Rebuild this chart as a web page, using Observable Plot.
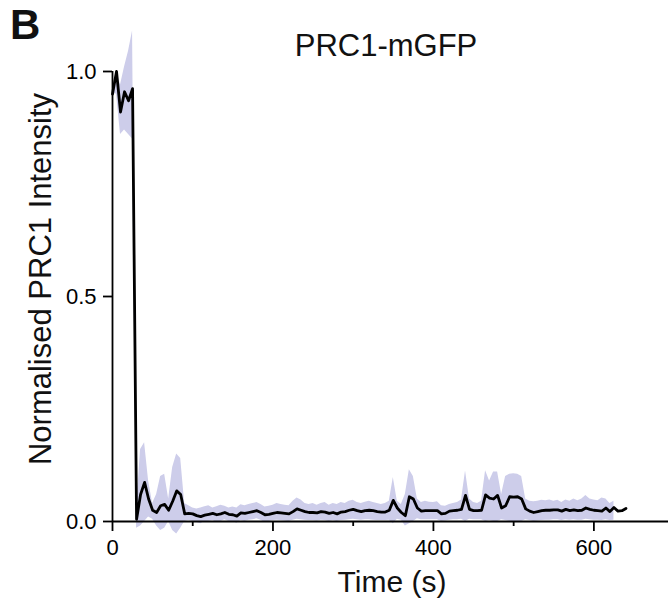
<!DOCTYPE html>
<html>
<head>
<meta charset="utf-8">
<script src="https://cdn.jsdelivr.net/npm/d3@7"></script>
<script src="https://cdn.jsdelivr.net/npm/@observablehq/plot@0.6"></script>
<style>
  html, body { margin: 0; padding: 0; background: #fff; }
  #chart { width: 670px; height: 612px; }
</style>
</head>
<body>
<div id="chart"></div>
<script>
// ---- data ----
const panelLetter = "B";
const titleText = "PRC1-mGFP";
const xLabel = "Time (s)";
const yLabel = "Normalised PRC1 Intensity";

const xMajorTicks = [0, 200, 400, 600];
const xMinorTicks = [100, 300, 500];
const yTicks = [0, 0.5, 1.0];

// mean intensity, sampled every 5 s from 0 to 640 s
const meanValues = [
  0.95, 1.00, 0.91, 0.955, 0.935, 0.962, 0.005, 0.06, 0.087, 0.05,
  0.025, 0.02, 0.035, 0.038, 0.025, 0.045, 0.068, 0.06, 0.017, 0.018,
  0.017, 0.013, 0.011, 0.014, 0.016, 0.018, 0.015, 0.017, 0.02, 0.016,
  0.015, 0.012, 0.019, 0.018, 0.02, 0.022, 0.024, 0.02, 0.015, 0.016,
  0.018, 0.02, 0.019, 0.018, 0.017, 0.022, 0.028, 0.025, 0.022, 0.02,
  0.02, 0.019, 0.022, 0.021, 0.018, 0.02, 0.017, 0.021, 0.022, 0.025,
  0.027, 0.024, 0.022, 0.024, 0.025, 0.024, 0.022, 0.021, 0.021, 0.025,
  0.047, 0.03, 0.02, 0.013, 0.055, 0.05, 0.03, 0.023, 0.024, 0.024,
  0.024, 0.024, 0.017, 0.018, 0.023, 0.024, 0.025, 0.027, 0.058, 0.027,
  0.024, 0.024, 0.025, 0.059, 0.052, 0.05, 0.058, 0.03, 0.035, 0.055,
  0.054, 0.055, 0.05, 0.028, 0.023, 0.02, 0.022, 0.024, 0.025, 0.025,
  0.026, 0.026, 0.023, 0.027, 0.024, 0.026, 0.024, 0.025, 0.03, 0.027,
  0.025, 0.024, 0.023, 0.03, 0.022, 0.031, 0.023, 0.024, 0.029
];

// error band, sampled every 5 s from 0 to 625 s
const bandUpper = [
  0.96, 1.00, 0.97, 1.01, 1.045, 1.09, 0.03, 0.16, 0.175, 0.09,
  0.04, 0.06, 0.10, 0.105, 0.05, 0.12, 0.15, 0.14, 0.04, 0.035,
  0.03, 0.028, 0.03, 0.033, 0.035, 0.03, 0.033, 0.036, 0.034, 0.03,
  0.032, 0.03, 0.037, 0.035, 0.038, 0.04, 0.042, 0.038, 0.032, 0.034,
  0.036, 0.04, 0.038, 0.036, 0.035, 0.045, 0.052, 0.048, 0.04, 0.038,
  0.04, 0.036, 0.04, 0.042, 0.036, 0.04, 0.038, 0.042, 0.04, 0.045,
  0.047, 0.042, 0.04, 0.043, 0.045, 0.042, 0.04, 0.038, 0.04, 0.045,
  0.098, 0.045, 0.038, 0.06, 0.115, 0.10, 0.05, 0.042, 0.045, 0.043,
  0.042, 0.044, 0.035, 0.034, 0.038, 0.04, 0.042, 0.048, 0.112, 0.05,
  0.042, 0.04, 0.045, 0.113, 0.09, 0.11, 0.11, 0.06, 0.10, 0.105,
  0.106, 0.105, 0.10, 0.05, 0.045, 0.044, 0.045, 0.047, 0.046, 0.048,
  0.045, 0.047, 0.042, 0.048, 0.045, 0.05, 0.046, 0.05, 0.058, 0.05,
  0.048, 0.046, 0.052, 0.05, 0.04, 0.045
];
const bandLower = [
  0.95, 0.95, 0.86, 0.87, 0.86, 0.85, -0.015, -0.01, 0.0, 0.01,
  0.005, -0.01, -0.02, -0.015, 0.0, -0.02, -0.028, -0.015, 0.0, 0.002,
  0.0, -0.002, -0.005, 0.0, 0.0, 0.002, -0.002, 0.0, 0.004, 0.0,
  0.0, -0.004, 0.002, 0.0, 0.003, 0.004, 0.006, 0.003, -0.002, 0.0,
  0.002, 0.003, 0.002, 0.001, 0.0, 0.003, 0.005, 0.004, 0.003, 0.002,
  0.002, 0.001, 0.003, 0.002, 0.0, 0.002, 0.0, 0.002, 0.003, 0.004,
  0.005, 0.004, 0.003, 0.004, 0.004, 0.003, 0.002, 0.002, 0.002, 0.003,
  -0.005, 0.005, 0.003, -0.01, -0.005, 0.0, 0.006, 0.004, 0.004, 0.004,
  0.004, 0.004, 0.0, 0.001, 0.003, 0.004, 0.004, 0.005, 0.0, 0.005,
  0.004, 0.004, 0.004, 0.0, 0.002, 0.0, 0.0, 0.004, 0.002, 0.0,
  0.0, 0.0, 0.0, 0.004, 0.002, 0.0, 0.001, 0.002, 0.003, 0.003,
  0.004, 0.004, 0.002, 0.004, 0.003, 0.004, 0.003, 0.003, 0.005, 0.004,
  0.003, 0.003, 0.002, 0.004, 0.002, 0.003
];
const sampleStep = 5; // seconds between frames

// ---- tables built from the arrays ----
const meanData = meanValues.map((v, i) => ({t: i * sampleStep, v}));
const bandData = bandUpper.map((u, i) => ({t: i * sampleStep, lo: bandLower[i], hi: u}));

const fontFamily = "Liberation Sans, Arial, Helvetica, sans-serif";

const svg = Plot.plot({
  width: 670,
  height: 612,
  marginLeft: 112,
  marginRight: 2,
  marginTop: 71,
  marginBottom: 91,
  style: {fontFamily, background: "white", overflow: "visible"},
  x: {domain: [0, 693], label: null},
  y: {domain: [0, 1], label: null},
  marks: [
    Plot.areaY(bandData, {x: "t", y1: "lo", y2: "hi", fill: "#cdcdea", fillOpacity: 1, curve: "linear"}),
    Plot.lineY(meanData, {x: "t", y: "v", stroke: "black", strokeWidth: 2.8, strokeLinejoin: "round", curve: "linear"}),
    Plot.ruleY([0], {stroke: "black", strokeWidth: 1.8}),
    Plot.ruleX([0], {y1: 0, y2: 1, stroke: "black", strokeWidth: 1.8}),
    Plot.axisX({ticks: xMajorTicks, tickSize: 10, tickPadding: 8, fontSize: 22, strokeWidth: 1.8, tickFormat: d => String(d), label: null}),
    Plot.axisX({ticks: xMinorTicks, tickSize: 5, strokeWidth: 1.8, text: null, label: null}),
    Plot.axisY({ticks: yTicks, tickSize: 9, tickPadding: 7, fontSize: 22, strokeWidth: 1.8, tickFormat: d3.format(".1f"), label: null})
  ]
});

const s = d3.select(svg);
s.selectAll("g[aria-label='x-axis tick label'] text, g[aria-label='y-axis tick label'] text").attr("fill", "black");

s.append("text")
  .attr("x", 10).attr("y", 39)
  .attr("text-anchor", "start")
  .attr("font-family", fontFamily).attr("font-size", 42).attr("font-weight", "bold")
  .attr("fill", "#111").text(panelLetter);

s.append("text")
  .attr("x", 386).attr("y", 56)
  .attr("text-anchor", "middle")
  .attr("font-family", fontFamily).attr("font-size", 31)
  .attr("fill", "#111").text(titleText);

s.append("text")
  .attr("x", 392).attr("y", 592)
  .attr("text-anchor", "middle")
  .attr("font-family", fontFamily).attr("font-size", 30)
  .attr("fill", "#111").text(xLabel);

s.append("text")
  .attr("transform", "translate(51,279) rotate(-90)")
  .attr("text-anchor", "middle")
  .attr("font-family", fontFamily).attr("font-size", 31)
  .attr("fill", "#111").text(yLabel);

document.getElementById("chart").appendChild(svg);
</script>
</body>
</html>
